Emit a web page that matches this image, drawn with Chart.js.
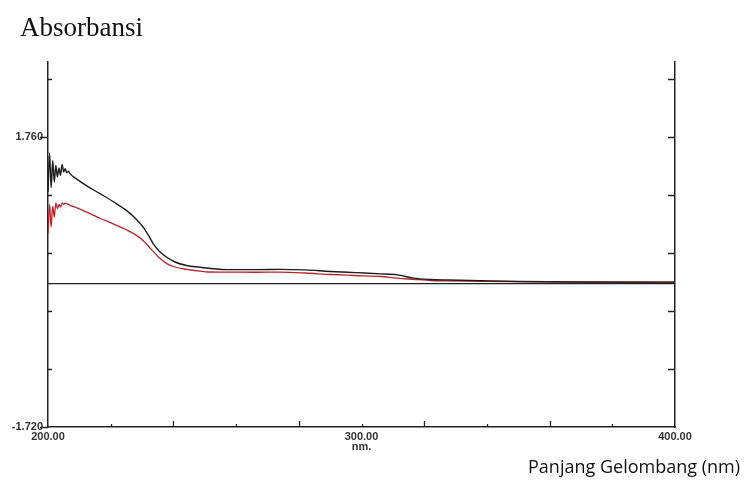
<!DOCTYPE html>
<html lang="en">
<head>
<meta charset="UTF-8">
<title>Absorbansi</title>
<script src="https://cdn.jsdelivr.net/npm/chart.js"></script>
<style>
  body { margin: 0; background: #fff; }
  #wrap { position: relative; width: 745px; height: 487px; }
  .ttl-y { position: absolute; left: 20px; top: 12px; font-family: 'Liberation Serif', serif; font-size: 27px; color: #111; }
  .ttl-x { position: absolute; right: 5px; top: 454px; font-family: 'Open Sans', sans-serif; font-size: 18px; color: #111; white-space: nowrap; }
</style>
</head>
<body>
<div id="wrap">
  <canvas id="spectrum" width="745" height="487"></canvas>
  <div class="ttl-y">Absorbansi</div>
  <div class="ttl-x">Panjang Gelombang (nm)</div>
</div>
<script>
// wavelength (nm) and absorbance
const wavelength = [200.0, 200.5, 201.0, 201.5, 202.0, 202.5, 203.0, 203.5, 204.0, 204.5,
                    205.0, 205.5, 206.0, 206.5, 207.0, 209.2, 212.5, 216.6, 221.0, 225.1,
                    228.0, 230.4, 232.5, 233.6, 235.5, 237.9, 240.5, 244.2, 248.5, 251.2,
                    258.2, 266.0, 274.2, 282.0, 290.1, 298.0, 306.1, 311.4, 316.6, 322.1,
                    327.7, 338.0, 350.0, 370.0, 400.0];
const sampleBlack = [1.10, 1.57, 1.15, 1.48, 1.22, 1.42, 1.28, 1.39, 1.30, 1.43,
                     1.34, 1.38, 1.33, 1.35, 1.32, 1.254, 1.17, 1.08, 0.98, 0.876,
                     0.78, 0.676, 0.55, 0.477, 0.39, 0.317, 0.26, 0.218, 0.197, 0.185,
                     0.168, 0.168, 0.172, 0.165, 0.146, 0.132, 0.118, 0.106, 0.066, 0.050,
                     0.044, 0.035, 0.026, 0.020, 0.018];
const sampleRed = [0.60, 0.95, 0.68, 0.93, 0.80, 0.97, 0.90, 0.95, 0.92, 0.97,
                   0.95, 0.965, 0.96, 0.955, 0.94, 0.91, 0.855, 0.785, 0.715, 0.645,
                   0.585, 0.515, 0.43, 0.385, 0.31, 0.24, 0.20, 0.172, 0.150, 0.140,
                   0.138, 0.137, 0.138, 0.128, 0.110, 0.098, 0.086, 0.066, 0.052, 0.038,
                   0.034, 0.029, 0.024, 0.019, 0.017];
const baselineX = [200, 400];
const baselineY = [0, 0];

const yTicks = [-1.72, -1.024, -0.328, 0.368, 1.064, 1.76, 2.456];
const yLabels = ['-1.720', '', '', '', '', '1.760', ''];
const xTicks = [200, 220, 240, 260, 280, 300, 320, 340, 360, 380, 400];
const xLabels = { 200: '200.00', 300: ['300.00', 'nm.'], 400: '400.00' };

const tickFont = { family: 'Liberation Sans', size: 11, weight: 'bold', lineHeight: 0.9 };

// small inward/outward tick marks like the instrument printout
const tickMarks = {
  id: 'tickMarks',
  afterDatasetsDraw(chart) {
    const { ctx, chartArea: a, scales: { x, y } } = chart;
    ctx.save();
    ctx.strokeStyle = '#222';
    ctx.lineWidth = 1.3;
    ctx.beginPath();
    yTicks.forEach((v, i) => {
      const py = Math.round(y.getPixelForValue(v)) + 0.5;
      if (yLabels[i]) { ctx.moveTo(a.left - 8, py); ctx.lineTo(a.left, py); }
      else { ctx.moveTo(a.left, py); ctx.lineTo(a.left + 4, py); }
      if (i > 0) { ctx.moveTo(a.right - 7, py); ctx.lineTo(a.right, py); }
    });
    xTicks.forEach((v, i) => {
      if (i === 0 || i === xTicks.length - 1) return;
      const px = Math.round(x.getPixelForValue(v)) + 0.5;
      const len = i % 2 === 0 ? 6 : 3;
      ctx.moveTo(px, a.bottom); ctx.lineTo(px, a.bottom - len);
    });
    ctx.stroke();
    ctx.restore();
  }
};

const pts = (xs, ys) => xs.map((w, i) => ({ x: w, y: ys[i] }));

new Chart(document.getElementById('spectrum'), {
  type: 'scatter',
  data: {
    datasets: [
      { label: 'baseline', data: pts(baselineX, baselineY), borderColor: '#222', borderWidth: 1.4 },
      { label: 'sampel 1', data: pts(wavelength, sampleBlack), borderColor: '#1c1c1c', borderWidth: 1.4 },
      { label: 'sampel 2', data: pts(wavelength, sampleRed), borderColor: '#b3262a', borderWidth: 1.3 }
    ]
  },
  options: {
    responsive: false,
    animation: false,
    showLine: true,
    cubicInterpolationMode: 'monotone',
    elements: { point: { radius: 0 } },
    layout: { padding: { top: 62 } },
    plugins: { legend: { display: false }, tooltip: { enabled: false } },
    scales: {
      x: {
        type: 'linear', min: 200, max: 400,
        afterBuildTicks: s => { s.ticks = xTicks.map(v => ({ value: v })); },
        afterFit: s => { s.height = 60; },
        grid: { display: false, drawTicks: false },
        border: { display: true, color: '#222', width: 1.5 },
        ticks: { autoSkip: false, maxRotation: 0, padding: 5, color: '#333', font: tickFont,
                 callback: v => xLabels[v] ?? '' }
      },
      y: {
        position: 'left', min: -1.72, max: 2.66,
        afterBuildTicks: s => { s.ticks = yTicks.map(v => ({ value: v })); },
        afterFit: s => { s.width = 48; },
        grid: { display: false, drawTicks: false },
        border: { display: true, color: '#222', width: 1.5 },
        ticks: { autoSkip: false, padding: 5, color: '#333', font: tickFont,
                 callback: (v, i) => yLabels[i] }
      },
      y2: {
        position: 'right', min: -1.72, max: 2.66,
        afterFit: s => { s.width = 70; },
        grid: { display: false, drawTicks: false },
        border: { display: true, color: '#222', width: 1.5 },
        ticks: { display: false }
      }
    }
  },
  plugins: [tickMarks]
});
</script>
</body>
</html>
